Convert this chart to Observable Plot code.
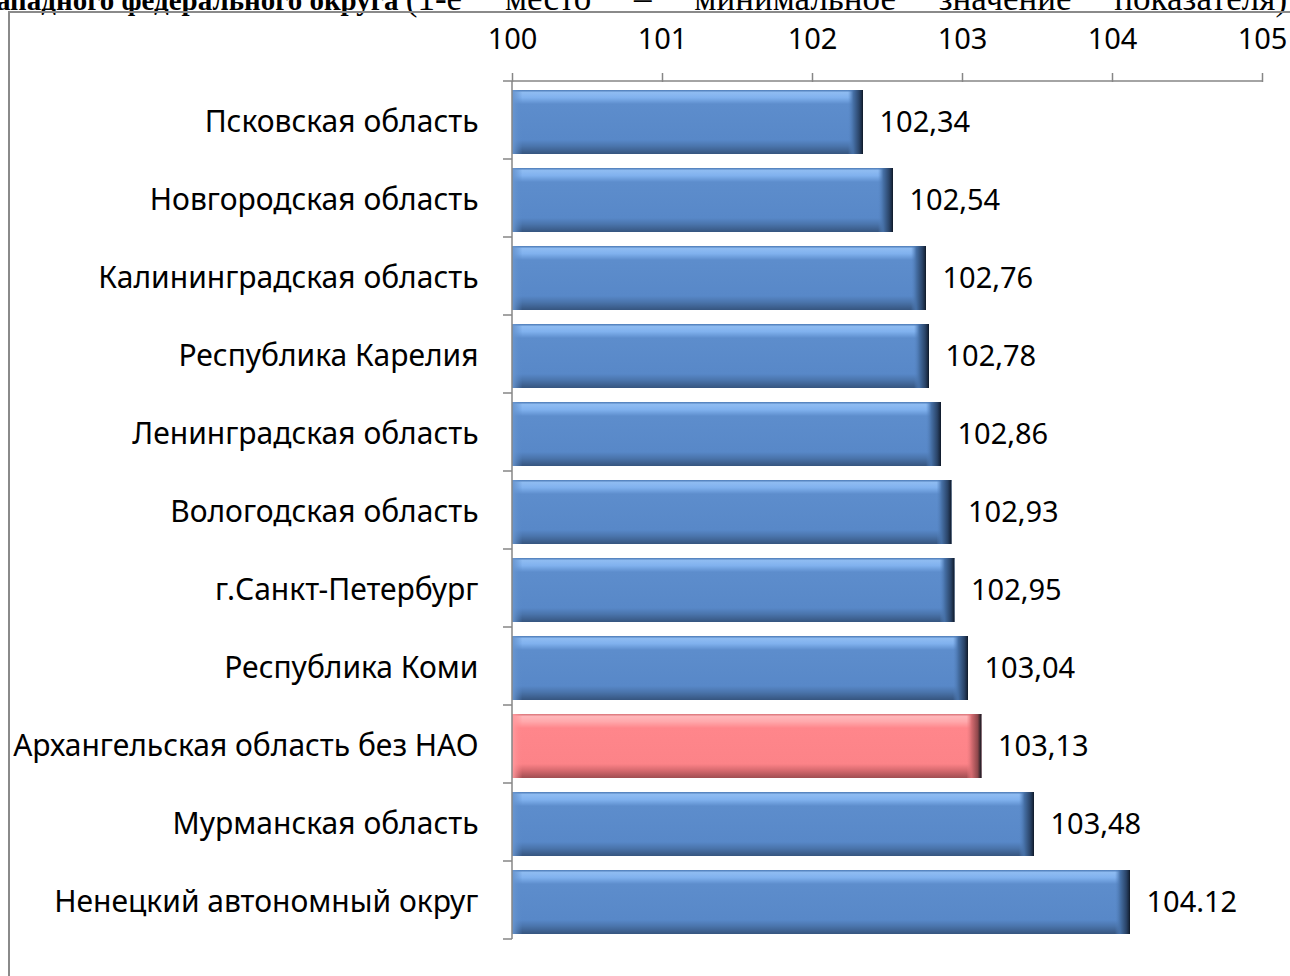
<!DOCTYPE html>
<html><head><meta charset="utf-8">
<script src="https://cdn.jsdelivr.net/npm/d3@7"></script>
<script src="https://cdn.jsdelivr.net/npm/@observablehq/plot@0.6"></script>
<style>
body{margin:0;background:#fff;}
#wrap{position:relative;width:1290px;height:976px;overflow:hidden;background:#fff;}
#title{position:absolute;left:-4px;top:-19px;white-space:nowrap;font-family:"Liberation Serif","Times New Roman",serif;font-size:29px;color:#000;line-height:36px;}
#title .reg{font-size:35px;word-spacing:34px;}
#frame{position:absolute;left:8px;top:11px;width:1400px;height:1100px;border-left:2px solid #8a8a8a;border-top:2px solid #8a8a8a;}
#chart{position:absolute;left:0;top:0;}
</style></head><body>
<div id="wrap">
<div id="title"><b>ападного федерального округа</b> <span class="reg">(1-е место – минимальное значение показателя)</span></div>
<div id="frame"></div>
<div id="chart"></div>
</div>
<script>
const regions = [
  "Псковская область",
  "Новгородская область",
  "Калининградская область",
  "Республика Карелия",
  "Ленинградская область",
  "Вологодская область",
  "г.Санкт-Петербург",
  "Республика Коми",
  "Архангельская область без НАО",
  "Мурманская область",
  "Ненецкий автономный округ"
];
const values = [102.34, 102.54, 102.76, 102.78, 102.86, 102.93, 102.95, 103.04, 103.13, 103.48, 104.12];
const valueLabels = ["102,34","102,54","102,76","102,78","102,86","102,93","102,95","103,04","103,13","103,48","104.12"];
const highlighted = ["Архангельская область без НАО"];
const xTicks = [100, 101, 102, 103, 104, 105];

const data = regions.map((r, i) => ({region: r, value: values[i], label: valueLabels[i], hl: highlighted.includes(r)}));
const xMin = xTicks[0];
const capW = 0.1, leftCapW = 0.07;
const blue = data.filter(d => !d.hl), pink = data.filter(d => d.hl);

const plot = Plot.plot({
  width: 1290,
  height: 976,
  marginTop: 81,
  marginBottom: 33,
  marginLeft: 512,
  marginRight: 28,
  style: {fontFamily: "'Noto Sans', sans-serif", fontSize: "29px", color: "#000", background: "transparent"},
  x: {domain: [xTicks[0], xTicks[xTicks.length - 1]], axis: null},
  y: {domain: regions, paddingInner: 0.184, paddingOuter: 0.092, axis: null},
  marks: [
    Plot.axisX({anchor: "top", label: null, ticks: xTicks, tickFormat: d => String(d), tickSize: 9, tickPadding: 24, stroke: "#868686", strokeWidth: 1.5, fill: "#000", fontSize: 29}),
    Plot.axisY({anchor: "left", label: null, tickSize: 0, tickPadding: 34, fontSize: 30, fill: "#000"}),
    Plot.barX(blue, {y: "region", x1: xMin, x2: "value", fill: "url(#gb)"}),
    Plot.barX(blue, {y: "region", x1: xMin, x2: d => xMin + leftCapW, fill: "url(#gbl)"}),
    Plot.barX(blue, {y: "region", x1: d => d.value - capW, x2: "value", fill: "url(#gbr)"}),
    Plot.barX(pink, {y: "region", x1: xMin, x2: "value", fill: "url(#gp)"}),
    Plot.barX(pink, {y: "region", x1: xMin, x2: d => xMin + leftCapW, fill: "url(#gpl)"}),
    Plot.barX(pink, {y: "region", x1: d => d.value - capW, x2: "value", fill: "url(#gpr)"}),
    Plot.text(data, {y: "region", x: "value", text: "label", dx: 16, textAnchor: "start", fontSize: 29, fill: "#000"})
  ]
});

const svg = d3.select(plot);
const defs = svg.insert("defs", ":first-child");
function vgrad(id, stops) {
  const g = defs.append("linearGradient").attr("id", id).attr("x1", 0).attr("y1", 0).attr("x2", 0).attr("y2", 1);
  stops.forEach(([o, c]) => g.append("stop").attr("offset", o).attr("stop-color", c));
}
function hgrad(id, stops) {
  const g = defs.append("linearGradient").attr("id", id).attr("x1", 0).attr("y1", 0).attr("x2", 1).attr("y2", 0);
  stops.forEach(([o, c]) => g.append("stop").attr("offset", o).attr("stop-color", c));
}
vgrad("gb", [[0, "#4a78b4"], [0.04, "#8fbcf2"], [0.12, "#80b1ee"], [0.22, "#5d8dcc"], [0.78, "#5888c8"], [0.88, "#4a74ab"], [1, "#36557f"]]);
hgrad("gbl", [[0, "#6a97d0"], [1, "rgba(91,139,202,0)"]]);
hgrad("gbr", [[0, "rgba(86,132,193,0)"], [0.35, "#4670a6"], [0.75, "#2a4468"], [0.9, "#1b2c45"], [1, "#0e1826"]]);
vgrad("gp", [[0, "#d87176"], [0.04, "#ffb8bb"], [0.12, "#ffa8ab"], [0.22, "#ff868b"], [0.78, "#fc8388"], [0.88, "#d76a6f"], [1, "#a04e52"]]);
hgrad("gpl", [[0, "#ff9ca0"], [1, "rgba(255,134,139,0)"]]);
hgrad("gpr", [[0, "rgba(240,126,131,0)"], [0.35, "#d26a6f"], [0.75, "#8e474b"], [0.9, "#3e2a30"], [1, "#0e1826"]]);

const xs = plot.scale("x"), ys = plot.scale("y");
const x0 = xs.apply(xMin), xEnd = xs.apply(xTicks[xTicks.length - 1]);
const yStart = ys.range[0], step = ys.step;
const axisG = svg.append("g").attr("stroke", "#868686").attr("stroke-width", 1.5).attr("fill", "none");
axisG.append("line").attr("x1", x0).attr("x2", xEnd).attr("y1", yStart).attr("y2", yStart);
axisG.append("line").attr("x1", x0).attr("x2", x0).attr("y1", yStart).attr("y2", yStart + step * regions.length);
for (let i = 0; i <= regions.length; i++) {
  const y = yStart + i * step;
  axisG.append("line").attr("x1", x0 - 9).attr("x2", x0).attr("y1", y).attr("y2", y);
}
document.getElementById("chart").appendChild(plot);
</script>
</body></html>
